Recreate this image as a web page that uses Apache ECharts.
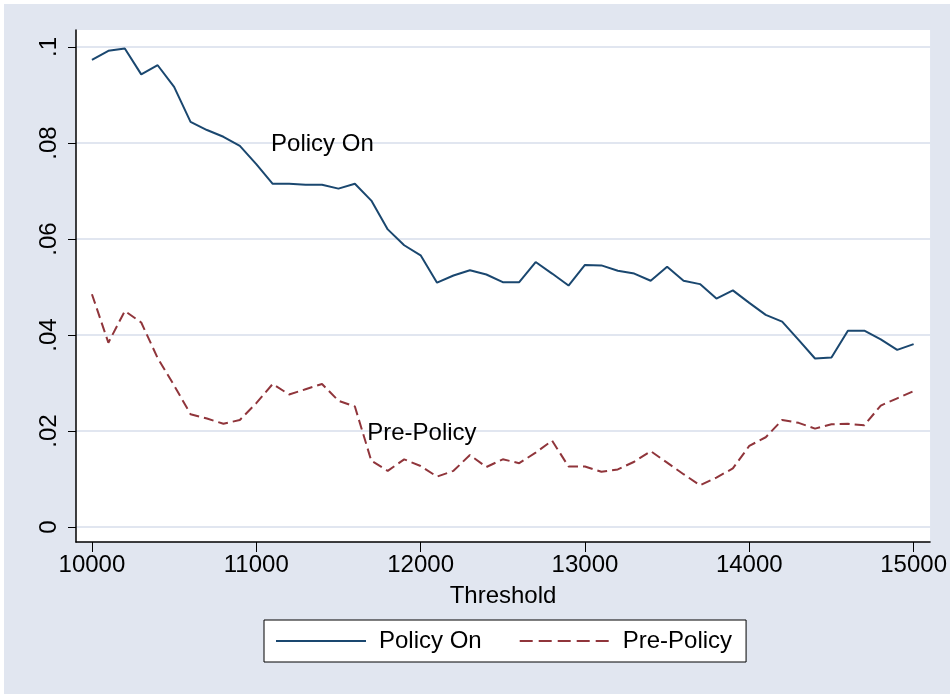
<!DOCTYPE html>
<html>
<head>
<meta charset="utf-8">
<script src="https://cdn.jsdelivr.net/npm/echarts@6/dist/echarts.min.js"></script>
<style>
html,body{margin:0;padding:0;background:#ffffff;}
#chart{width:950px;height:694px;}
</style>
</head>
<body>
<div id="chart"></div>
<script>
const thresholds = [10000,10100,10200,10300,10400,10500,10600,10700,10800,10900,
  11000,11100,11200,11300,11400,11500,11600,11700,11800,11900,
  12000,12100,12200,12300,12400,12500,12600,12700,12800,12900,
  13000,13100,13200,13300,13400,13500,13600,13700,13800,13900,
  14000,14100,14200,14300,14400,14500,14600,14700,14800,14900,15000];
const policyOn = [0.0973,0.0992,0.0997,0.0943,0.0962,0.0917,0.0844,0.0827,0.0813,0.0794,
  0.0756,0.0715,0.0715,0.0713,0.0713,0.0705,0.0715,0.0680,0.0620,0.0587,
  0.0566,0.0509,0.0524,0.0535,0.0526,0.0510,0.0510,0.0552,0.0528,0.0503,
  0.0546,0.0545,0.0534,0.0528,0.0513,0.0542,0.0513,0.0506,0.0476,0.0493,
  0.0467,0.0442,0.0428,0.0390,0.0351,0.0353,0.0409,0.0409,0.0391,0.0369,0.0381];
const prePolicy = [0.0485,0.0384,0.0450,0.0426,0.0352,0.0295,0.0235,0.0226,0.0215,0.0223,
  0.0258,0.0298,0.0276,0.0287,0.0298,0.0263,0.0251,0.0138,0.0117,0.0141,
  0.0127,0.0105,0.0117,0.0150,0.0125,0.0141,0.0133,0.0155,0.0180,0.0126,
  0.0126,0.0115,0.0120,0.0136,0.0158,0.0134,0.0110,0.0087,0.0103,0.0122,
  0.0169,0.0187,0.0223,0.0217,0.0205,0.0214,0.0215,0.0212,0.0253,0.0268,0.0283];
const xTicks = [10000,11000,12000,13000,14000,15000];
const yTicks = [0,0.02,0.04,0.06,0.08,0.1];
const yTickLabels = ['0','.02','.04','.06','.08','.1'];
const seriesNames = ['Policy On','Pre-Policy'];
const annotationPolicyOn = {x: 11090, y: 0.0798, text: 'Policy On'};
const annotationPrePolicy = {x: 11675, y: 0.0196, text: 'Pre-Policy'};

const BG = '#E1E6F0';
const FONT = "'Liberation Sans', Arial, Helvetica, sans-serif";
const NAVY = '#1A476F';
const MAROON = '#90353B';

function pairs(ys){ return thresholds.map((x,i)=>[x, ys[i]]); }
function annot(a){
  return {
    symbol:'circle', symbolSize:0, silent:true,
    data:[{coord:[a.x,a.y], value:a.text}],
    label:{show:true, position:'right', distance:0, formatter:a.text,
      color:'#000', fontSize:24, fontFamily:FONT}
  };
}

const chart = echarts.init(document.getElementById('chart'), null, {renderer:'canvas'});
chart.setOption({
  backgroundColor:'#ffffff',
  animation:false,
  graphic:[{type:'rect', z:-100, silent:true,
    shape:{x:4,y:4,width:960,height:700}, style:{fill:BG}}],
  grid:{left:76, right:17, top:30, bottom:152, show:true,
    backgroundColor:'#ffffff', borderWidth:0},
  xAxis:{
    type:'value', min:9903, max:15100,
    name:'Threshold', nameLocation:'middle', nameGap:42,
    nameTextStyle:{color:'#000', fontSize:24, fontFamily:FONT},
    axisLine:{show:true, onZero:false, lineStyle:{color:'#000', width:1.5}},
    axisTick:{show:true, length:10, customValues:xTicks, lineStyle:{color:'#000', width:1}},
    axisLabel:{customValues:xTicks, margin:11, color:'#000', fontSize:24, fontFamily:FONT,
      formatter:v=>String(v)},
    splitLine:{show:false}
  },
  yAxis:{
    type:'value', min:-0.003125, max:0.103542,
    axisLine:{show:true, onZero:false, lineStyle:{color:'#000', width:1.5}},
    axisTick:{show:true, length:8, customValues:yTicks, lineStyle:{color:'#000', width:1}},
    axisLabel:{customValues:yTicks, rotate:90, margin:15, color:'#000', fontSize:24, fontFamily:FONT,
      formatter:v=>{ const i = yTicks.findIndex(t=>Math.abs(t-v)<1e-9); return i>=0 ? yTickLabels[i] : ''; }},
    splitLine:{show:true, lineStyle:{color:BG, width:2}}
  },
  legend:{
    data:[{name:seriesNames[0]}, {name:seriesNames[1], lineStyle:{type:[13,6]}}],
    left:264, top:620,
    orient:'horizontal',
    backgroundColor:'#ffffff', borderColor:'#000', borderWidth:1, borderRadius:0,
    padding:[9,14,9,11], itemGap:37, itemWidth:90, itemHeight:14,
    itemStyle:{opacity:0, borderWidth:0, color:'rgba(0,0,0,0)'},
    textStyle:{color:'#000', fontSize:24, fontFamily:FONT, padding:[0,0,0,8]}
  },
  series:[
    {name:seriesNames[0], type:'line', data:pairs(policyOn), showSymbol:false, symbol:'none',
      lineStyle:{color:NAVY, width:2}, itemStyle:{color:NAVY},
      markPoint:annot(annotationPolicyOn)},
    {name:seriesNames[1], type:'line', data:pairs(prePolicy), showSymbol:false, symbol:'none',
      lineStyle:{color:MAROON, width:2, type:[10,5]}, itemStyle:{color:MAROON},
      markPoint:annot(annotationPrePolicy)}
  ]
});
</script>
</body>
</html>
